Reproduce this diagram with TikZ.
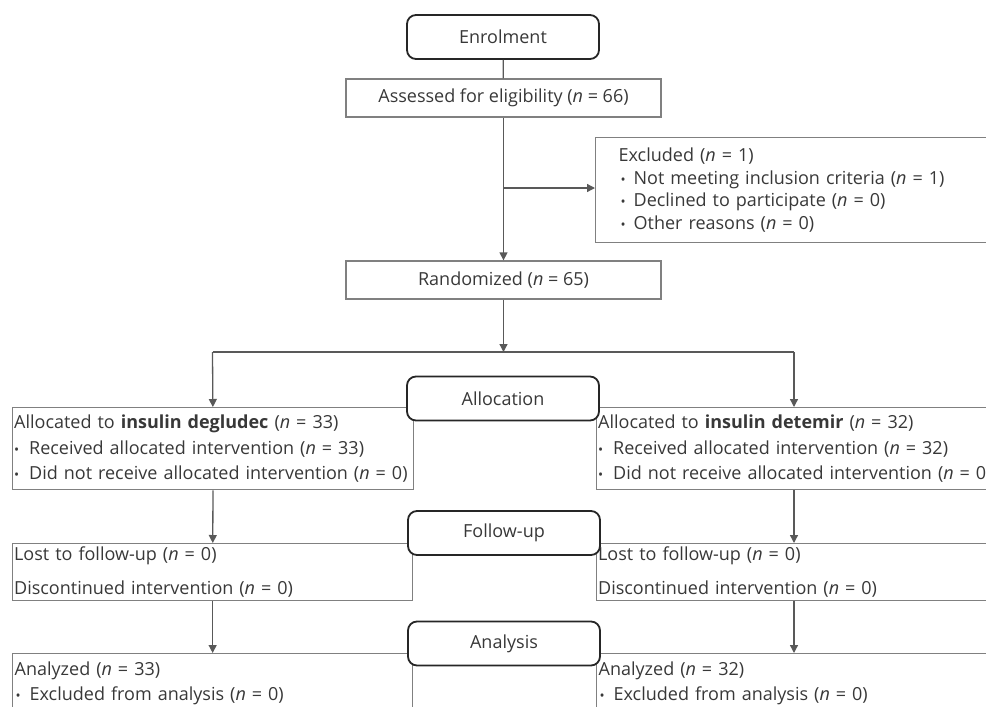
\documentclass[tikz,border=0pt]{standalone}
\usepackage{fontspec}
\setmainfont{Open Sans}
\usetikzlibrary{arrows.meta}
\newcommand\blt[2]{\hspace*{#1}\makebox[#2][l]{\scalebox{0.75}{•}}}
\begin{document}
\begin{tikzpicture}[x=1pt,y=-1pt,
  txt/.style={font=\fontsize{18}{25.5}\selectfont, text=black!78},
  box/.style={draw=black!50, line width=1.3pt, inner ysep=0pt, align=left, txt},
  cbox/.style={draw=black!50, line width=1.3pt, inner sep=0pt, align=center, txt, minimum width=315pt, minimum height=38pt},
  phase/.style={draw=black!85, line width=1.8pt, rounded corners=9pt, fill=white, minimum width=192pt, minimum height=44pt, txt, inner sep=0pt},
  conn/.style={draw=black!65, line width=1.3pt},
  arr/.style={conn, -{Triangle[length=8pt,width=8pt]}}]
\useasboundingbox (0,0) rectangle (986,707);
\clip (0,0) rectangle (986,707);

\node[phase] (enrol) at (503,37) {Enrolment};
\node[cbox] (assess) at (503.5,98) {Assessed for eligibility (\textit{n} = 66)};
\node[box, anchor=north west, inner xsep=23pt, text width=364pt, minimum height=105pt] (excl) at (595,137)
  {Excluded (\textit{n} = 1)\\[-3pt]
   \blt{2pt}{13pt}Not meeting inclusion criteria (\textit{n} = 1)\\[-3pt]
   \blt{2pt}{13pt}Declined to participate (\textit{n} = 0)\\[-3pt]
   \blt{2pt}{13pt}Other reasons (\textit{n} = 0)};
\node[cbox] (rand) at (503.5,280) {Randomized (\textit{n} = 65)};

\node[box, anchor=north west, inner xsep=1.5pt, text width=398pt, minimum height=82pt] (allocL) at (12,407)
  {Allocated to \textbf{insulin degludec} (\textit{n} = 33)\\
   \blt{0pt}{15pt}Received allocated intervention (\textit{n} = 33)\\
   \blt{0pt}{15pt}Did not receive allocated intervention (\textit{n} = 0)};
\node[box, anchor=north west, inner xsep=1.5pt, text width=430pt, minimum height=82pt] (allocR) at (596,407)
  {Allocated to \textbf{insulin detemir} (\textit{n} = 32)\\
   \blt{0pt}{15pt}Received allocated intervention (\textit{n} = 32)\\
   \blt{0pt}{15pt}Did not receive allocated intervention (\textit{n} = 0)};

\node[box, anchor=north west, inner xsep=1.5pt, text width=397pt, minimum height=57pt] (lostL) at (12,543)
  {Lost to follow-up (\textit{n} = 0)\\[9pt]
   Discontinued intervention (\textit{n} = 0)};
\node[box, anchor=north west, inner xsep=1.5pt, text width=430pt, minimum height=57pt] (lostR) at (596,543)
  {Lost to follow-up (\textit{n} = 0)\\[9pt]
   Discontinued intervention (\textit{n} = 0)};

\node[box, anchor=north west, inner xsep=2pt, text width=396pt, minimum height=59pt] (anaL) at (12,653)
  {Analyzed (\textit{n} = 33)\\
   \blt{1pt}{14pt}Excluded from analysis (\textit{n} = 0)};
\node[box, anchor=north west, inner xsep=2pt, text width=430pt, minimum height=59pt] (anaR) at (596,653)
  {Analyzed (\textit{n} = 32)\\
   \blt{1pt}{14pt}Excluded from analysis (\textit{n} = 0)};

\coordinate (br) at (503.5,188);
\coordinate (split) at (503.5,352);
\coordinate (sl) at (212.5,352);
\coordinate (sr) at (794,352);

\draw[conn] (enrol) -- (assess);
\draw[arr] (assess) -- (rand);
\draw[arr] (br) -- (br -| excl.west);
\draw[arr] (rand) -- (split);
\draw[conn] (sl) -- (sr);
\draw[arr] (sl) -- (allocL);
\draw[arr] (sr) -- (sr |- allocR.north);
\draw[arr] (allocL) -- (lostL);
\draw[arr] (allocR.south -| sr) -- (lostR.north -| sr);
\draw[arr] (lostL) -- (anaL);
\draw[arr] (lostR.south -| sr) -- (anaR.north -| sr);

\node[phase] (alloc) at (503,398.5) {Allocation};
\node[phase] (follow) at (504,533) {Follow-up};
\node[phase] (analysis) at (504,643.5) {Analysis};
\end{tikzpicture}
\end{document}
